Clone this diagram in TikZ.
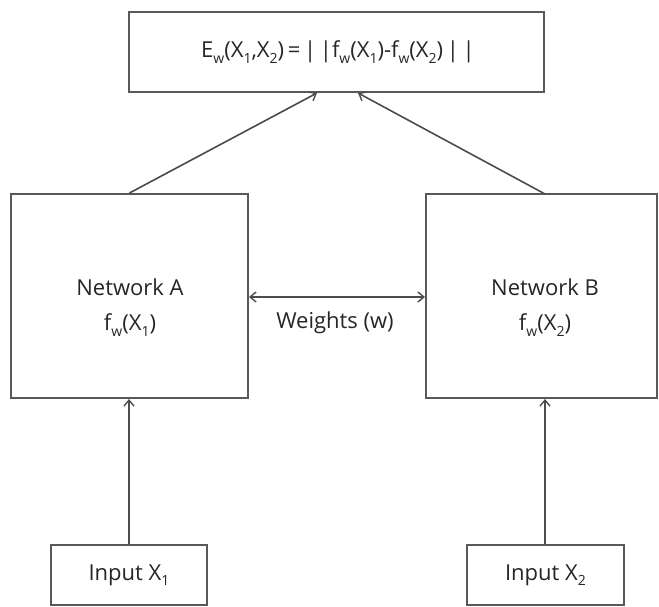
\documentclass[tikz,border=0pt]{standalone}
\usepackage{fontspec}
\setmainfont{Open Sans}
\usetikzlibrary{arrows.meta,calc}
\newcommand\sbx[1]{\raisebox{-0.45ex}{\fontsize{14}{15}\selectfont #1}}
\begin{document}
\begin{tikzpicture}[x=1pt,y=-1pt,
  lbl/.style={text=black!85, font=\fontsize{22}{26}\selectfont},
  box/.style={draw=black!65, line width=2pt, inner sep=0pt, fill=white, lbl, align=center},
  conn/.style={draw=black!70, line width=1.6pt, -{Straight Barb[length=6pt,width=10pt,line width=1.4pt]}},
  biconn/.style={draw=black!70, line width=1.6pt, {Straight Barb[length=6pt,width=10pt,line width=1.4pt]}-{Straight Barb[length=6pt,width=10pt,line width=1.4pt]}}]
\useasboundingbox (0,0) rectangle (659,607);
\node[box, minimum width=415pt, minimum height=80pt] (top) at (336.5,52)
  {\hspace*{3pt}E\sbx{w}(X\sbx{1},X\sbx{2})\,=\,|\,|f\sbx{w}(X\sbx{1})-f\sbx{w}(X\sbx{2})\,|\,|};
\node[box, minimum width=237pt, minimum height=204pt] (A) at (129.5,296) {};
\node[box, minimum width=231pt, minimum height=204pt] (B) at (541.5,296) {};
\node[box, minimum width=156pt, minimum height=60pt] (in1) at (129,575) {Input X\sbx{1}};
\node[box, minimum width=157pt, minimum height=60pt] (in2) at (545.5,575) {Input X\sbx{2}};
\node[lbl] (tA) at (130,287) {Network A};
\node[lbl] (fA) at (130,325) {f\sbx{w}(X\sbx{1})};
\node[lbl] (tB) at (545,287) {Network B};
\node[lbl] (fB) at (545,325) {f\sbx{w}(X\sbx{2})};
\node[lbl] (wl) at (335,323) {Weights (w)};
\coordinate (Aw) at (A.east |- 0,297);
\coordinate (Bw) at (B.west |- 0,297);
\draw[biconn] (Aw) -- (Bw);
\draw[conn] (in1.north) -- (in1.north |- A.south);
\draw[conn] ([xshift=-0.5pt]in2.north) -- ([xshift=-0.5pt]in2.north |- B.south);
\coordinate (Bs) at (545,194);
\draw[conn] (A.north) -- ([xshift=-19.5pt]top.south);
\draw[conn] (Bs) -- ([xshift=21.5pt]top.south);
\end{tikzpicture}
\end{document}
